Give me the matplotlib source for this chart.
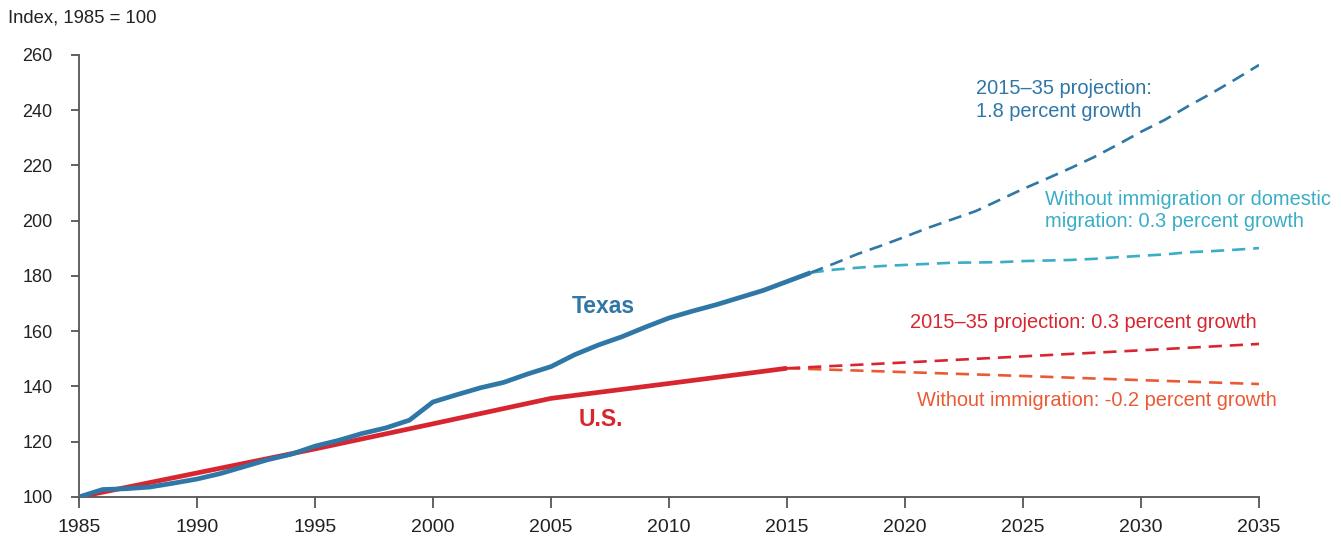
import matplotlib.pyplot as plt

plt.rcParams['font.family'] = ['Liberation Sans', 'DejaVu Sans']

# historical data
tx_years = list(range(1985, 2017))
tx_hist = [100, 102.7, 103.0, 103.6, 105.0, 106.5, 108.5, 111.0, 113.5, 115.5,
           118.4, 120.5, 123.0, 125.0, 127.8, 134.4, 137.0, 139.5, 141.5, 144.5,
           147.2, 151.5, 155.0, 158.0, 161.5, 164.8, 167.3, 169.6, 172.2, 174.8,
           178.0, 181.2]

us_years = [1985, 1990, 1995, 2000, 2005, 2010, 2015]
us_hist = [100, 108.7, 117.4, 126.5, 135.7, 141.1, 146.6]

# projections
tx_proj_years = list(range(2016, 2036))
tx_proj = [181.2, 184.5, 188.0, 191.0, 194.2, 197.5, 200.5, 203.5, 207.5, 211.5,
           215.2, 219.0, 223.0, 227.5, 232.2, 236.5, 241.5, 246.2, 251.2, 256.4]
tx_nomig = [181.2, 182.3, 183.0, 183.6, 184.0, 184.4, 184.8, 184.9, 185.0, 185.4,
            185.6, 185.8, 186.2, 186.8, 187.3, 187.8, 188.6, 189.0, 189.5, 190.1]

us_proj_years = [2015, 2020, 2025, 2030, 2035]
us_proj = [146.6, 148.7, 150.9, 153.1, 155.4]
us_noimm = [146.6, 145.2, 143.8, 142.3, 140.9]

c_tx = '#2f77a6'
c_tx2 = '#3aadc7'
c_us = '#d7262f'
c_us2 = '#ea5a35'

fig = plt.figure(figsize=(13.41, 5.37), dpi=100)
ax = fig.add_axes([0.0589, 0.0745, 0.88, 0.8231])

ax.plot(us_years, us_hist, c=c_us, lw=3.4, solid_capstyle='butt', zorder=3)
ax.plot(tx_years, tx_hist, c=c_tx, lw=3.4, solid_capstyle='butt', zorder=4)
ax.plot(us_proj_years, us_noimm, c=c_us2, lw=1.9, dashes=(5, 3))
ax.plot(us_proj_years, us_proj, c=c_us, lw=1.9, dashes=(5, 3))
ax.plot(tx_proj_years, tx_nomig, c=c_tx2, lw=1.9, dashes=(5, 3))
ax.plot(tx_proj_years, tx_proj, c=c_tx, lw=1.9, dashes=(5, 3))

ax.set_xlim(1985, 2035)
ax.set_ylim(100, 260)
ax.set_xticks(range(1985, 2036, 5))
ax.set_yticks(range(100, 261, 20))

for s in ['top', 'right']:
    ax.spines[s].set_visible(False)
for s in ['left', 'bottom']:
    ax.spines[s].set_color('#555555')
    ax.spines[s].set_linewidth(1.3)
ax.tick_params(axis='both', colors='#555555', width=1.3, labelcolor='#222222')
ax.tick_params(axis='x', length=8, pad=8, labelsize=14)
ax.tick_params(axis='y', length=6, pad=13, labelsize=13)

fig.text(0.006, 0.966, 'Index, 1985 = 100', fontsize=13.3, color='#222222',
         va='center', ha='left')

ax.text(2007.2, 168.8, 'Texas', color=c_tx, fontsize=16.5, fontweight='bold',
        ha='center', va='center')
ax.text(2007.1, 127.9, 'U.S.', color=c_us, fontsize=16.5, fontweight='bold',
        ha='center', va='center')
ax.text(2023.0, 243.6, '2015–35 projection:\n1.8 percent growth', color=c_tx,
        fontsize=14.4, ha='left', va='center', linespacing=1.25)
ax.text(2025.95, 203.7, 'Without immigration or domestic\nmigration: 0.3 percent growth',
        color=c_tx2, fontsize=14.4, ha='left', va='center', linespacing=1.25)
ax.text(2020.2, 163.0, '2015–35 projection: 0.3 percent growth', color=c_us,
        fontsize=14.4, ha='left', va='center')
ax.text(2020.5, 134.8, 'Without immigration: -0.2 percent growth', color=c_us2,
        fontsize=14.4, ha='left', va='center')

plt.savefig('out.png', dpi=100)
